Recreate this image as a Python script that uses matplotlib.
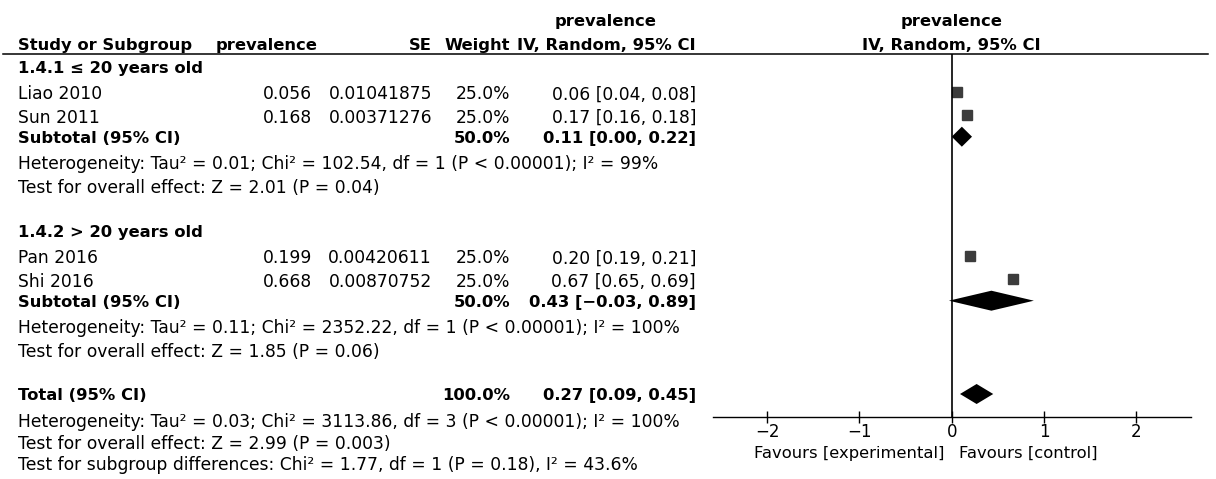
import matplotlib

matplotlib.use("Agg")
import matplotlib.pyplot as plt

# study level data
studies = ["Liao 2010", "Sun 2011", "Pan 2016", "Shi 2016"]
prevalence = [0.056, 0.168, 0.199, 0.668]
se = [0.01041875, 0.00371276, 0.00420611, 0.00870752]
weights = [25.0, 25.0, 25.0, 25.0]
ci_low = [0.04, 0.16, 0.19, 0.65]
ci_high = [0.08, 0.18, 0.21, 0.69]

# subgroups
group_titles = ["1.4.1 \u2264 20 years old", "1.4.2 > 20 years old"]
group_members = [[0, 1], [2, 3]]
sub_weight = [50.0, 50.0]
sub_est = [0.11, 0.43]
sub_low = [0.00, -0.03]
sub_high = [0.22, 0.89]
sub_het = [
    "Heterogeneity: Tau\u00b2 = 0.01; Chi\u00b2 = 102.54, df = 1 (P < 0.00001); I\u00b2 = 99%",
    "Heterogeneity: Tau\u00b2 = 0.11; Chi\u00b2 = 2352.22, df = 1 (P < 0.00001); I\u00b2 = 100%",
]
sub_test = [
    "Test for overall effect: Z = 2.01 (P = 0.04)",
    "Test for overall effect: Z = 1.85 (P = 0.06)",
]

# overall
total_weight = 100.0
total_est = 0.27
total_low = 0.09
total_high = 0.45
total_notes = [
    "Heterogeneity: Tau\u00b2 = 0.03; Chi\u00b2 = 3113.86, df = 3 (P < 0.00001); I\u00b2 = 100%",
    "Test for overall effect: Z = 2.99 (P = 0.003)",
    "Test for subgroup differences: Chi\u00b2 = 1.77, df = 1 (P = 0.18), I\u00b2 = 43.6%",
]
x_ticks = [-2, -1, 0, 1, 2]

W, H = 1216, 479
FS = 12.3       # regular text
FS_B = 11.8     # bold text (DejaVu bold runs wide)
plt.rcParams["font.family"] = ["DejaVu Sans"]

# text baselines (pixels from top)
group_y = [72.7, 236.7]
study_y = [99.3, 122.7, 263.3, 286.7]
sub_y = [142.7, 306.7]
het_y = [169.3, 333.3]
test_y = [192.7, 356.7]
total_y = 400
notes_y = [426.7, 449.3, 470]
MARK_DY = 7.5

# columns (pixels)
X_NAME, X_PREV, X_SE, X_W, X_CI = 18, 312, 432, 510, 696


def num(v):
    return f"{v:.2f}".replace("-", "\u2212")


def ci_str(e, lo, hi):
    return f"{num(e)} [{num(lo)}, {num(hi)}]"


fig = plt.figure(figsize=(W / 100, H / 100), dpi=100)
tab = fig.add_axes([0, 0, 1, 1])
tab.set_xlim(0, W)
tab.set_ylim(H, 0)
tab.axis("off")


def put(x, y, s, ha="left", bold=False, size=None):
    if size is None:
        size = FS_B if bold else FS
    tab.text(x, y, s, ha=ha, va="baseline", fontsize=size,
             fontweight="bold" if bold else "normal", color="black")


# forest panel, x in effect units, y in the same pixel rows as the table
X0, UNIT = 951.7, 92.3
XMIN, XMAX = -2.59, 2.59
AX_TOP, AX_BOT = 53.5, 417.3
fx = fig.add_axes([(X0 + XMIN * UNIT) / W, 1 - AX_BOT / H,
                   (XMAX - XMIN) * UNIT / W, (AX_BOT - AX_TOP) / H])
fx.set_xlim(XMIN, XMAX)
fx.set_ylim(AX_BOT, AX_TOP)
fx.patch.set_alpha(0)

# header
put(X_NAME, 49.5, "Study or Subgroup", bold=True)
put(216, 49.5, "prevalence", bold=True)
put(X_SE, 49.5, "SE", ha="right", bold=True)
put(X_W, 49.5, "Weight", ha="right", bold=True)
put(606, 26, "prevalence", ha="center", bold=True)
put(X_CI, 49.5, "IV, Random, 95% CI", ha="right", bold=True)
put(X0, 26, "prevalence", ha="center", bold=True)
put(X0, 49.5, "IV, Random, 95% CI", ha="center", bold=True)
tab.plot([3, 1208], [AX_TOP, AX_TOP], color="black", lw=1.1)


def diamond(e, lo, hi, yc, h=10):
    fx.fill([lo, e, hi, e], [yc, yc - h, yc, yc + h], color="black", lw=0)


for g, title in enumerate(group_titles):
    put(X_NAME, group_y[g], title, bold=True)
    for i in group_members[g]:
        y = study_y[i]
        put(X_NAME, y, studies[i])
        put(X_PREV, y, f"{prevalence[i]:.3f}", ha="right")
        put(X_SE, y, f"{se[i]}", ha="right")
        put(X_W, y, f"{weights[i]:.1f}%", ha="right")
        put(X_CI, y, ci_str(prevalence[i], ci_low[i], ci_high[i]), ha="right")
        fx.hlines(y - MARK_DY, ci_low[i], ci_high[i], color="#3c3c3c", lw=1)
        fx.plot(prevalence[i], y - MARK_DY, "s", ms=6.5, color="#3c3c3c")
    put(X_NAME, sub_y[g], "Subtotal (95% CI)", bold=True)
    put(X_W, sub_y[g], f"{sub_weight[g]:.1f}%", ha="right", bold=True)
    put(X_CI, sub_y[g], ci_str(sub_est[g], sub_low[g], sub_high[g]), ha="right", bold=True)
    diamond(sub_est[g], sub_low[g], sub_high[g], sub_y[g] - 6)
    put(X_NAME, het_y[g], sub_het[g])
    put(X_NAME, test_y[g], sub_test[g])

put(X_NAME, total_y, "Total (95% CI)", bold=True)
put(X_W, total_y, f"{total_weight:.1f}%", ha="right", bold=True)
put(X_CI, total_y, ci_str(total_est, total_low, total_high), ha="right", bold=True)
diamond(total_est, total_low, total_high, total_y - 6)
for y, s in zip(notes_y, total_notes):
    put(X_NAME, y, s)

# axis of the forest panel
fx.axvline(0, color="black", lw=1.2)
for side in ["top", "left", "right"]:
    fx.spines[side].set_visible(False)
fx.spines["bottom"].set_linewidth(1)
fx.set_yticks([])
fx.set_xticks(x_ticks)
fx.tick_params(axis="x", direction="inout", length=8, width=1, labelsize=12, pad=0)
put(945, 458, "Favours [experimental]", ha="right", size=11.8)
put(959, 458, "Favours [control]", size=11.8)

fig.savefig("out.png", dpi=100)
plt.close(fig)
